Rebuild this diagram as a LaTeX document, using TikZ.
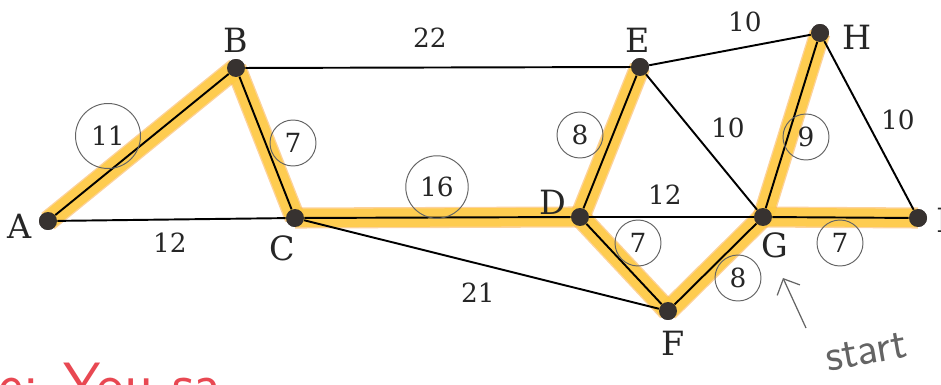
\documentclass[tikz,border=0pt]{standalone}
\usepackage{fontspec}
\usepackage{tikz}
\usetikzlibrary{arrows.meta}
\newfontfamily\etiq{DejaVu Serif}
\definecolor{surligne}{RGB}{255,204,68}
\definecolor{bordsurl}{RGB}{250,165,55}
\definecolor{crayon}{RGB}{100,100,100}
\definecolor{stylo}{RGB}{232,72,82}
\definecolor{point}{RGB}{55,50,48}

\begin{document}
\begin{tikzpicture}[x=0.02cm, y=-0.02cm,
  dot/.style={circle, fill=point, inner sep=0pt, minimum size=0.36cm},
  lettre/.style={font=\etiq\fontsize{19}{23}\selectfont, text=black!85},
  poids/.style={font=\etiq\fontsize{15}{18}\selectfont, text=black!85},
  entoure/.style={poids, circle, draw=crayon, line width=0.55pt, minimum size=0.92cm, inner sep=0pt},
  arete/.style={line width=1.1pt, black},
  marque/.style={line width=10.5pt, surligne, opacity=0.85}]
\useasboundingbox (0,0) rectangle (941,385);

% Sommets
\node[dot] (A) at (48,221) {};
\node[dot] (B) at (236,68) {};
\node[dot] (C) at (295,218) {};
\node[dot] (D) at (580,217) {};
\node[dot] (E) at (640,67) {};
\node[dot] (F) at (668,311) {};
\node[dot] (G) at (763,217) {};
\node[dot] (H) at (820,33) {};
\node[dot] (I) at (918,218) {};

% Surlignage de l'arbre couvrant
\foreach \u/\v in {A/B, B/C, C/D, D/E, D/F, F/G, G/H, G/I}
  \draw[bordsurl, line width=12pt, opacity=0.5] (\u.center) -- (\v.center);
\foreach \u/\v in {A/B, B/C, C/D, D/E, D/F, F/G, G/H, G/I}
  \draw[marque] (\u.center) -- (\v.center);

% Aretes
\foreach \u/\v in {A/B, A/C, B/C, B/E, C/D, C/F, D/E, D/G, D/F, E/H, E/G, G/H, H/I, G/I, F/G}
  \draw[arete] (\u) -- (\v);

% on redessine les points par-dessus
\foreach \s in {A,B,C,D,E,F,G,H,I}
  \fill[point] (\s) circle (0.18cm);

% Noms des sommets
\node[lettre] (lA) at (20,226) {A};
\node[lettre] (lB) at (236,40) {B};
\node[lettre] (lC) at (282,248) {C};
\node[lettre] (lD) at (553,202) {D};
\node[lettre] (lE) at (638,40) {E};
\node[lettre] (lF) at (673,343) {F};
\node[lettre] (lG) at (775,245) {G};
\node[lettre] (lH) at (857,37) {H};
\node[lettre] (lI) at (943,220) {I};

% Poids (entoures = arbre)
\node[entoure, minimum size=1.3cm] (wAB) at (108,136) {11};
\node[poids] (wAC) at (170,243) {12};
\node[entoure] (wBC) at (293,143) {7};
\node[poids] (wBE) at (430,38) {22};
\node[entoure, minimum size=1.25cm] (wCD) at (437,187) {16};
\node[poids] (wCF) at (478,293) {21};
\node[entoure] (wDE) at (580,135) {8};
\node[poids] (wDG) at (665,195) {12};
\node[entoure] (wDF) at (638,243) {7};
\node[poids] (wEH) at (745,22) {10};
\node[poids] (wEG) at (728,128) {10};
\node[entoure] (wGH) at (806,137) {9};
\node[poids] (wHI) at (898,120) {10};
\node[entoure] (wGI) at (840,243) {7};
\node[entoure] (wFG) at (738,278) {8};

% Depart
\coordinate (sQueue) at (806,328);
\coordinate (sTete) at (783,278);
\draw[crayon, line width=0.7pt, -{Straight Barb[length=2.5mm]}] (sQueue) -- (sTete);
\node[crayon, font=\sffamily\fontsize{26}{30}\selectfont, rotate=10, inner sep=1pt] (depart) at (866,352) {start};

% Note en bas (coupee)
\node[stylo, font=\sffamily\fontsize{34}{40}\selectfont, anchor=base west] (note) at (-8,404) {e: You sa};
\end{tikzpicture}
\end{document}
